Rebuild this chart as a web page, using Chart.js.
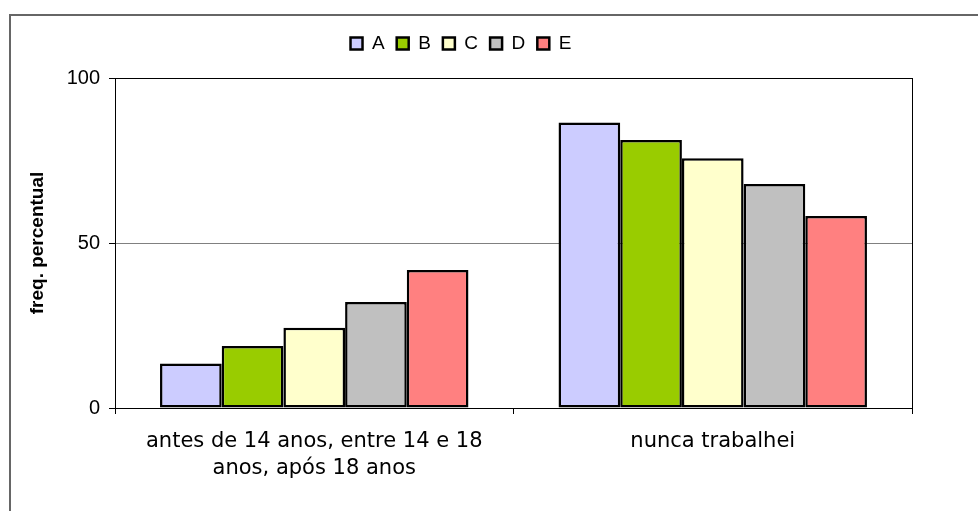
<!DOCTYPE html>
<html>
<head>
<meta charset="utf-8">
<script src="https://cdn.jsdelivr.net/npm/chart.js@4/dist/chart.umd.min.js"></script>
<style>
  html, body { margin: 0; padding: 0; background: #fff; }
  #wrap { position: relative; width: 978px; height: 511px; overflow: hidden; }
  #frame { position: absolute; left: 9px; top: 14px; width: 1000px; height: 600px;
           border-left: 2px solid #666; border-top: 2px solid #666; }
  canvas { position: absolute; left: 0; top: 0; }
</style>
</head>
<body>
<div id="wrap">
  <div id="frame"></div>
  <canvas id="chart" width="978" height="511"></canvas>
</div>
<script>
// categories and series
const categories = [["antes de 14 anos, entre 14 e 18", "anos, após 18 anos"], "nunca trabalhei"];
const seriesNames = ["A", "B", "C", "D", "E"];
const seriesA = [13.5, 86.5];
const seriesB = [18.8, 81.2];
const seriesC = [24.3, 75.7];
const seriesD = [32.1, 67.9];
const seriesE = [41.8, 58.2];
const yTicks = [0, 50, 100];

const colors = ["#CCCCFF", "#99CC00", "#FFFFCC", "#C0C0C0", "#FF8080"];
const allSeries = [seriesA, seriesB, seriesC, seriesD, seriesE];

const datasets = seriesNames.map((name, i) => ({
  label: name,
  data: allSeries[i],
  backgroundColor: colors[i],
  borderColor: "#000",
  borderWidth: 2.5,
  borderSkipped: false,
  barPercentage: 1,
  categoryPercentage: 0.774
}));

// fixed legend height so plot area starts where the reference does
const legendHeight = {
  id: "legendHeight",
  beforeInit(chart) {
    const fit = chart.legend.fit;
    chart.legend.fit = function () {
      fit.bind(chart.legend)();
      this.height = 56;
    };
  }
};

// right border of the plot area
const plotBorder = {
  id: "plotBorder",
  afterDraw(chart) {
    const { ctx, chartArea } = chart;
    ctx.save();
    ctx.strokeStyle = "#000";
    ctx.lineWidth = 1;
    ctx.beginPath();
    ctx.moveTo(Math.round(chartArea.right) + 0.5, chartArea.top);
    ctx.lineTo(Math.round(chartArea.right) + 0.5, chartArea.bottom + 6);
    ctx.stroke();
    ctx.restore();
  }
};

new Chart(document.getElementById("chart").getContext("2d"), {
  type: "bar",
  data: { labels: categories, datasets },
  plugins: [legendHeight, plotBorder],
  options: {
    responsive: false,
    animation: false,
    layout: { padding: { left: 10, right: 66, top: 22, bottom: 0 } },
    plugins: {
      tooltip: { enabled: false },
      legend: {
        position: "top",
        labels: {
          color: "#000",
          font: { family: "Liberation Sans", size: 19 },
          boxWidth: 12,
          boxHeight: 12,
          padding: 12,
          useBorderRadius: false
        }
      }
    },
    scales: {
      x: {
        grid: {
          offset: true,
          drawOnChartArea: false,
          drawTicks: true,
          tickLength: 6,
          tickColor: "#000"
        },
        border: { color: "#000", width: 1 },
        ticks: {
          color: "#000",
          padding: 15,
          maxRotation: 0,
          autoSkip: false,
          font: { family: "DejaVu Sans", size: 21, lineHeight: 1.24 }
        },
        afterFit(scale) { scale.height = 103; }
      },
      y: {
        min: 0,
        max: 100,
        afterBuildTicks(scale) { scale.ticks = yTicks.map(v => ({ value: v })); },
        grid: {
          color: ctx => (ctx.tick && ctx.tick.value === 50 ? "#808080" : "#000"),
          tickColor: "#000",
          tickLength: 6
        },
        border: { color: "#000", width: 1 },
        ticks: {
          color: "#000",
          padding: 9,
          font: { family: "Liberation Sans", size: 20 }
        },
        title: {
          display: true,
          text: "freq. percentual",
          color: "#000",
          padding: { top: 16, bottom: 0 },
          font: { family: "Liberation Sans", size: 19, weight: "bold" }
        },
        afterFit(scale) { scale.width = 105; }
      }
    }
  }
});
</script>
</body>
</html>
